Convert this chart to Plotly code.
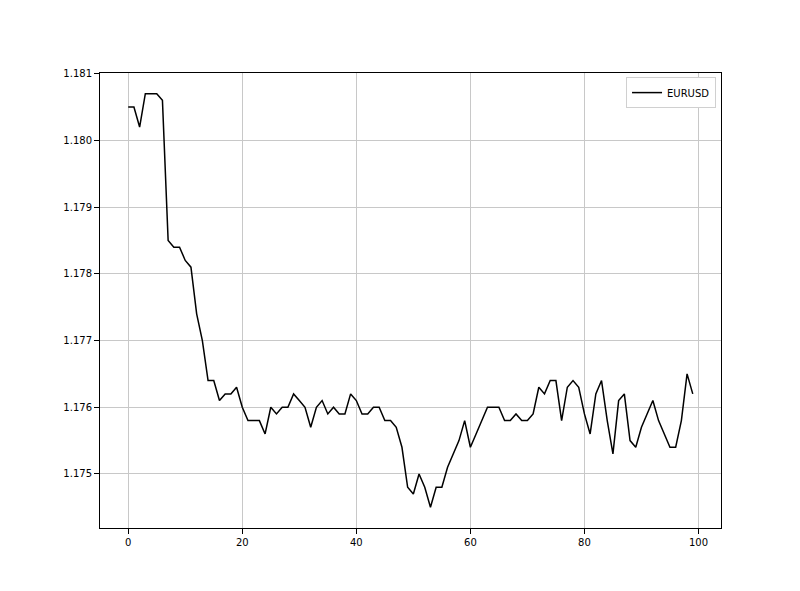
import plotly.graph_objects as go

# EURUSD close, 100 ticks
steps = list(range(100))
eurusd = [
    1.1805, 1.1805, 1.1802, 1.1807, 1.1807, 1.1807, 1.1806, 1.1785, 1.1784, 1.1784,
    1.1782, 1.1781, 1.1774, 1.1770, 1.1764, 1.1764, 1.1761, 1.1762, 1.1762, 1.1763,
    1.1760, 1.1758, 1.1758, 1.1758, 1.1756, 1.1760, 1.1759, 1.1760, 1.1760, 1.1762,
    1.1761, 1.1760, 1.1757, 1.1760, 1.1761, 1.1759, 1.1760, 1.1759, 1.1759, 1.1762,
    1.1761, 1.1759, 1.1759, 1.1760, 1.1760, 1.1758, 1.1758, 1.1757, 1.1754, 1.1748,
    1.1747, 1.1750, 1.1748, 1.1745, 1.1748, 1.1748, 1.1751, 1.1753, 1.1755, 1.1758,
    1.1754, 1.1756, 1.1758, 1.1760, 1.1760, 1.1760, 1.1758, 1.1758, 1.1759, 1.1758,
    1.1758, 1.1759, 1.1763, 1.1762, 1.1764, 1.1764, 1.1758, 1.1763, 1.1764, 1.1763,
    1.1759, 1.1756, 1.1762, 1.1764, 1.1758, 1.1753, 1.1761, 1.1762, 1.1755, 1.1754,
    1.1757, 1.1759, 1.1761, 1.1758, 1.1756, 1.1754, 1.1754, 1.1758, 1.1765, 1.1762,
]
x_ticks = [0, 20, 40, 60, 80, 100]
y_ticks = [1.175, 1.176, 1.177, 1.178, 1.179, 1.180, 1.181]

fig = go.Figure()
fig.add_trace(go.Scatter(x=steps, y=eurusd, mode='lines', name='EURUSD',
                         line=dict(color='black', width=1.5)))

# matplotlib-like 5% padding
pad_x = (max(steps) - min(steps)) * 0.05
pad_y = (max(eurusd) - min(eurusd)) * 0.05

axis_style = dict(showline=True, linecolor='black', linewidth=1, mirror=True,
                  ticks='outside', ticklen=5, tickcolor='black',
                  showgrid=True, gridcolor='#c8c8c8', gridwidth=1,
                  zeroline=False, tickfont=dict(family='DejaVu Sans', size=10, color='black'))

fig.update_xaxes(range=[min(steps) - pad_x, max(steps) + pad_x], tickvals=x_ticks, **axis_style)
fig.update_yaxes(range=[min(eurusd) - pad_y, max(eurusd) + pad_y], tickvals=y_ticks,
                 tickformat='.3f', **axis_style)

# page body adds ~8px offset, so margins are shifted to compensate
fig.update_layout(
    width=800, height=591,
    margin=dict(l=92, r=87, t=65, b=71),
    plot_bgcolor='white', paper_bgcolor='white',
    showlegend=True,
    legend=dict(x=0.992, y=0.991, xanchor='right', yanchor='top',
                bgcolor='white', bordercolor='#d0d0d0', borderwidth=1,
                font=dict(family='DejaVu Sans', size=10, color='black'),
                itemwidth=30),
)

fig.write_html("out.html")
